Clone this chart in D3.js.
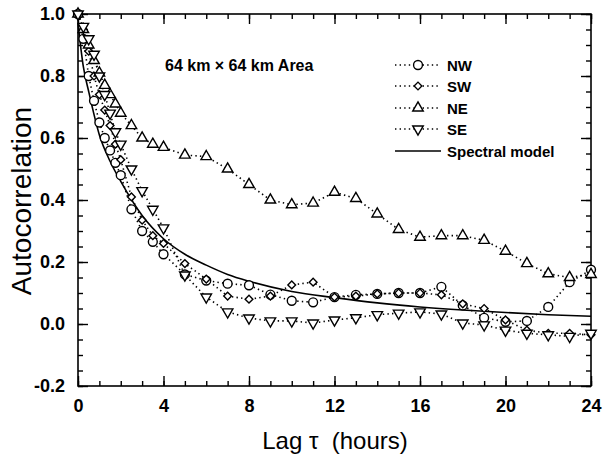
<!DOCTYPE html>
<html>
<head>
<meta charset="utf-8">
<script src="https://cdn.jsdelivr.net/npm/d3@7"></script>
<style>
  html, body { margin: 0; padding: 0; background: #fff; }
  svg { display: block; font-family: "Liberation Sans", Arial, Helvetica, sans-serif; }
</style>
</head>
<body>
<svg id="chart" width="603" height="462"></svg>
<script>
// ---- data ----
const lags = [0, 0.25, 0.5, 0.75, 1, 1.25, 1.5, 1.75, 2, 2.5, 3, 3.5, 4,
  5, 6, 7, 8, 9, 10, 11, 12, 13, 14, 15, 16, 17, 18, 19, 20, 21, 22, 23, 24];
const nwValues = [1.0, 0.92, 0.80, 0.72, 0.65, 0.60, 0.56, 0.52, 0.48, 0.37, 0.30, 0.265, 0.225,
  0.16, 0.14, 0.13, 0.125, 0.095, 0.075, 0.07, 0.087, 0.094, 0.097, 0.10, 0.10, 0.12, 0.06, 0.02, 0.007, 0.01, 0.055, 0.135, 0.175];
const swValues = [1.0, 0.95, 0.88, 0.80, 0.74, 0.69, 0.64, 0.58, 0.53, 0.41, 0.335, 0.285, 0.26,
  0.195, 0.145, 0.09, 0.08, 0.09, 0.126, 0.135, 0.087, 0.09, 0.097, 0.10, 0.10, 0.094, 0.065, 0.05, 0.013, -0.02, -0.03, -0.03, -0.035];
const neValues = [1.0, 0.95, 0.90, 0.85, 0.81, 0.77, 0.74, 0.71, 0.68, 0.64, 0.60, 0.58, 0.57,
  0.545, 0.54, 0.50, 0.45, 0.40, 0.385, 0.39, 0.425, 0.405, 0.355, 0.305, 0.28, 0.285, 0.285, 0.27, 0.235, 0.195, 0.162, 0.15, 0.16];
const seValues = [1.0, 0.96, 0.92, 0.87, 0.80, 0.74, 0.68, 0.62, 0.58, 0.50, 0.43, 0.37, 0.31,
  0.158, 0.087, 0.039, 0.019, 0.01, 0.01, 0.003, 0.013, 0.02, 0.03, 0.035, 0.039, 0.032, 0.003, -0.003, -0.02, -0.03, -0.035, -0.04, -0.03];
const modelLags = [0, 0.25, 0.5, 1, 1.5, 2, 3, 4, 5, 6, 7, 8, 10, 12, 14, 16, 18, 20, 22, 24];
const modelValues = [0.97, 0.83, 0.75, 0.61, 0.525, 0.46, 0.35, 0.275, 0.225, 0.19, 0.16, 0.138, 0.105, 0.085, 0.068, 0.055, 0.045, 0.037, 0.03, 0.025];

const seriesNames = ["NW", "SW", "NE", "SE"];
const seriesSymbols = ["circle", "diamond", "triangleUp", "triangleDown"];
const modelName = "Spectral model";
const xMajorTicks = [0, 4, 8, 12, 16, 20, 24];
const yMajorTicks = [-0.2, 0.0, 0.2, 0.4, 0.6, 0.8, 1.0];
const annotation = "64 km \u00d7 64 km Area";
const xTitle = "Lag \u03c4\u00a0\u00a0(hours)";
const yTitle = "Autocorrelation";

// ---- drawing ----
const svg = d3.select("#chart");
const L = 78, R = 591, T = 14, B = 386;
const x = d3.scaleLinear().domain([0, 24]).range([L, R]);
const y = d3.scaleLinear().domain([-0.2, 1.0]).range([B, T]);

const seriesValues = [nwValues, swValues, neValues, seValues];

function axisStyle(g) {
  g.select(".domain").remove();
  g.selectAll(".tick line").attr("stroke", "#000").attr("stroke-width", 1.4);
}

// minor ticks
const xMinor = d3.range(0, 25, 1);
const yMinor = d3.range(-0.2, 1.0001, 0.05).map(v => +v.toFixed(2));
svg.append("g").attr("transform", `translate(0,${B})`)
  .call(d3.axisBottom(x).tickValues(xMinor).tickSize(-5).tickFormat("")).call(axisStyle);
svg.append("g").attr("transform", `translate(0,${T})`)
  .call(d3.axisTop(x).tickValues(xMinor).tickSize(-5).tickFormat("")).call(axisStyle);
svg.append("g").attr("transform", `translate(${L},0)`)
  .call(d3.axisLeft(y).tickValues(yMinor).tickSize(-5).tickFormat("")).call(axisStyle);
svg.append("g").attr("transform", `translate(${R},0)`)
  .call(d3.axisRight(y).tickValues(yMinor).tickSize(-5).tickFormat("")).call(axisStyle);

// major ticks
const gxb = svg.append("g").attr("transform", `translate(0,${B})`)
  .call(d3.axisBottom(x).tickValues(xMajorTicks).tickSize(-10).tickPadding(13).tickFormat(d => String(d))).call(axisStyle);
svg.append("g").attr("transform", `translate(0,${T})`)
  .call(d3.axisTop(x).tickValues(xMajorTicks).tickSize(-10).tickFormat("")).call(axisStyle);
const gyl = svg.append("g").attr("transform", `translate(${L},0)`)
  .call(d3.axisLeft(y).tickValues(yMajorTicks).tickSize(-10).tickPadding(13).tickFormat(d => d.toFixed(1))).call(axisStyle);
svg.append("g").attr("transform", `translate(${R},0)`)
  .call(d3.axisRight(y).tickValues(yMajorTicks).tickSize(-10).tickFormat("")).call(axisStyle);

[gxb, gyl].forEach(g => g.selectAll(".tick text")
  .attr("fill", "#000").style("font-size", "18px").style("font-weight", "bold")
  .style("font-family", "'Liberation Sans', Arial, sans-serif"));

// frame
svg.append("rect").attr("x", L).attr("y", T).attr("width", R - L).attr("height", B - T)
  .attr("fill", "none").attr("stroke", "#000").attr("stroke-width", 1.6);

// model line
const modelLine = d3.line().x(d => x(d[0])).y(d => y(d[1])).curve(d3.curveMonotoneX);
svg.append("path").datum(modelLags.map((l, i) => [l, modelValues[i]]))
  .attr("d", modelLine).attr("fill", "none").attr("stroke", "#000").attr("stroke-width", 1.6);

// series dotted lines
const sLine = d3.line().x(d => x(d[0])).y(d => y(d[1]));
seriesValues.forEach(vals => {
  svg.append("path").datum(lags.map((l, i) => [l, vals[i]]))
    .attr("d", sLine).attr("fill", "none").attr("stroke", "#000")
    .attr("stroke-width", 1.6).attr("stroke-dasharray", "1.4 3.2");
});

// markers
function symbolPath(kind) {
  if (kind === "circle") return d3.symbol(d3.symbolCircle, 62)();
  if (kind === "diamond") return d3.symbol(d3.symbolSquare, 30)();
  return d3.symbol(d3.symbolTriangle, 48)();
}
function drawMarker(g, kind, cx, cy) {
  let rot = "";
  if (kind === "triangleDown") rot = " rotate(180)";
  if (kind === "diamond") rot = " rotate(45)";
  g.append("path").attr("d", symbolPath(kind))
    .attr("transform", `translate(${cx},${cy})` + rot)
    .attr("fill", "#fff").attr("stroke", "#000").attr("stroke-width", 1.4);
}
seriesValues.forEach((vals, si) => {
  const g = svg.append("g");
  lags.forEach((l, i) => drawMarker(g, seriesSymbols[si], x(l), y(vals[i])));
});

// legend
const legRows = [65, 86, 108, 129, 151];
const leg = svg.append("g");
seriesNames.forEach((name, i) => {
  const yy = legRows[i];
  leg.append("line").attr("x1", 395).attr("x2", 441).attr("y1", yy).attr("y2", yy)
    .attr("stroke", "#000").attr("stroke-width", 1.4).attr("stroke-dasharray", "1.4 3.2");
  drawMarker(leg, seriesSymbols[i], 418, yy);
  leg.append("text").attr("x", 447).attr("y", yy + 5.5).text(name)
    .style("font-size", "15px").style("font-weight", "bold");
});
leg.append("line").attr("x1", 395).attr("x2", 441).attr("y1", legRows[4]).attr("y2", legRows[4])
  .attr("stroke", "#000").attr("stroke-width", 1.6);
leg.append("text").attr("x", 447).attr("y", legRows[4] + 5.5).text(modelName)
  .style("font-size", "15px").style("font-weight", "bold");

// annotation
svg.append("text").attr("x", 165).attr("y", 71).text(annotation)
  .style("font-size", "16px").style("font-weight", "bold");

// axis titles
svg.append("text").attr("x", 335).attr("y", 449).attr("text-anchor", "middle")
  .text(xTitle).style("font-size", "24px");
svg.append("text").attr("transform", `translate(31,201) rotate(-90)`).attr("text-anchor", "middle")
  .text(yTitle).style("font-size", "28px");
</script>
</body>
</html>
